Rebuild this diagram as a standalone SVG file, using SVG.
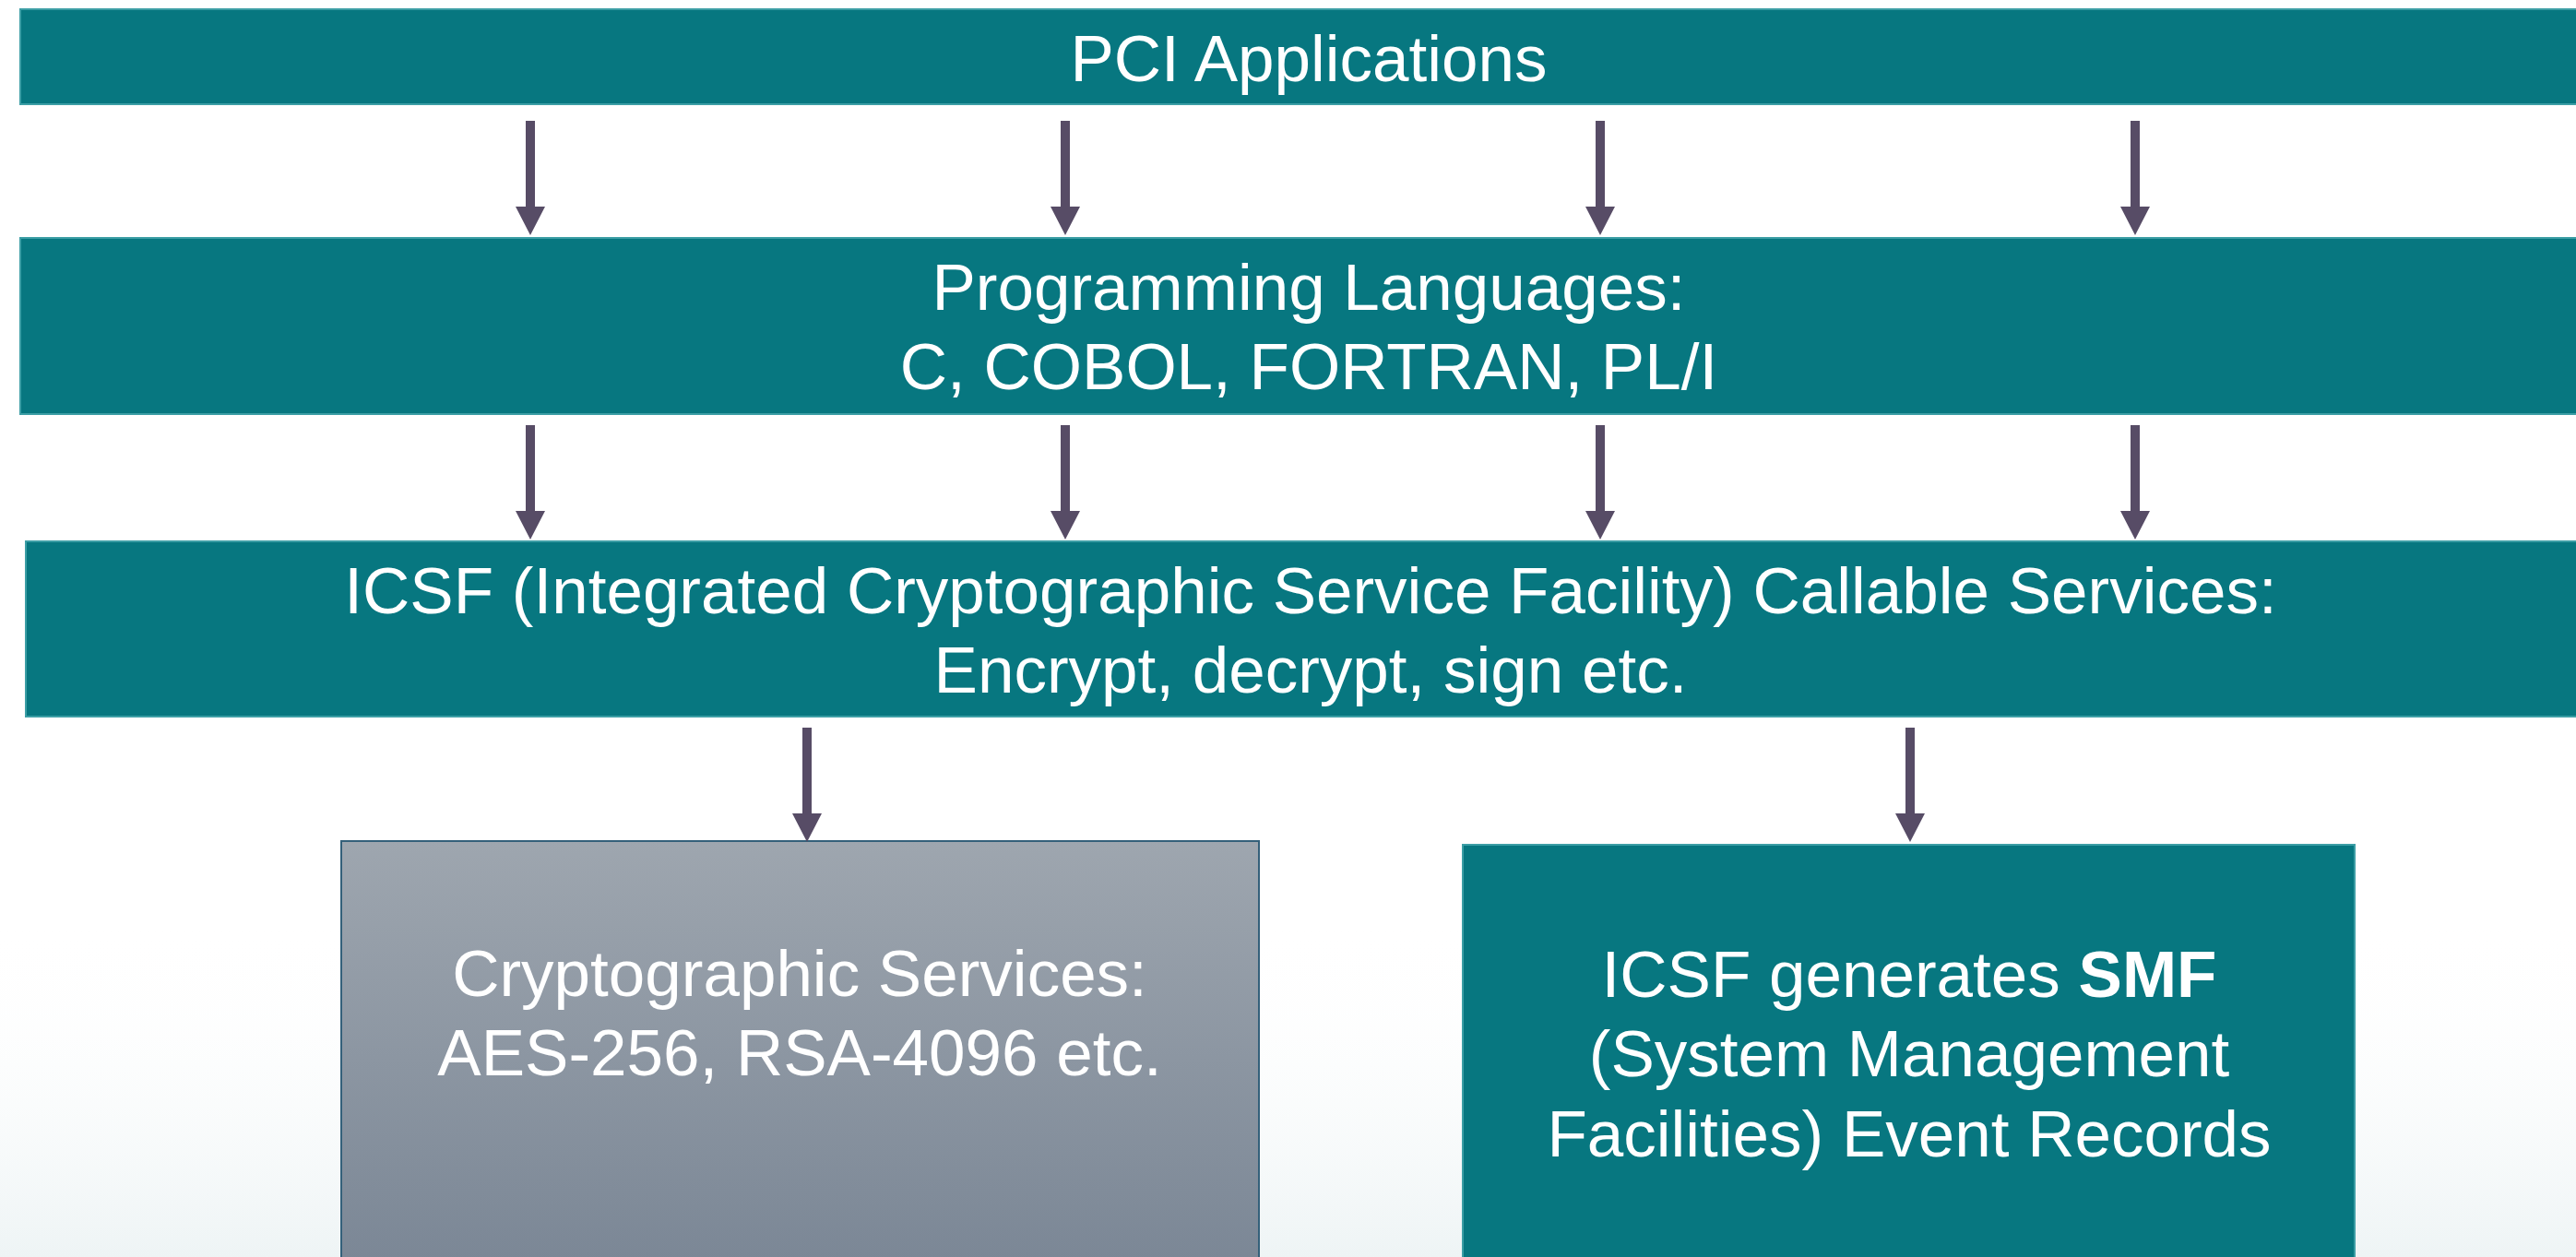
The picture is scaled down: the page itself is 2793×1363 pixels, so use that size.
<svg xmlns="http://www.w3.org/2000/svg" width="2793" height="1363" viewBox="0 0 2793 1363">
  <defs>
    <style>
      .bar { fill: #077780; stroke: #3c9ea5; stroke-width: 2; }
      .lbl { font-family: "Liberation Sans", Arial, sans-serif; font-size: 71px; fill: #ffffff; text-anchor: middle; }
      .arrow { fill: #574c66; }
    </style>
    <linearGradient id="grayGrad" x1="0" y1="0" x2="0" y2="1">
      <stop offset="0" stop-color="#9ea6af"/>
      <stop offset="1" stop-color="#7a8695"/>
    </linearGradient>
    <linearGradient id="bgGrad" x1="0" y1="0" x2="0" y2="1">
      <stop offset="0" stop-color="#ffffff" stop-opacity="0"/>
      <stop offset="1" stop-color="#eef4f5" stop-opacity="1"/>
    </linearGradient>
    <path id="arr" d="M -5 0 L 5 0 L 5 93 L 16 93 L 0 124 L -16 93 L -5 93 Z"/>
  </defs>

  <rect x="0" y="0" width="2793" height="1363" fill="#ffffff"/>
  <rect x="0" y="1000" width="2793" height="363" fill="url(#bgGrad)"/>

  <g id="node-pci">
    <rect class="bar" x="22" y="10" width="2800" height="103"/>
    <text class="lbl" x="1419" y="88">PCI Applications</text>
  </g>

  <g id="node-languages">
    <rect class="bar" x="22" y="258" width="2800" height="191"/>
    <text class="lbl" x="1419" y="336">Programming Languages:</text>
    <text class="lbl" x="1419" y="422">C, COBOL, FORTRAN, PL/I</text>
  </g>

  <g id="node-icsf">
    <rect class="bar" x="28" y="587" width="2800" height="190"/>
    <text class="lbl" x="1421" y="665">ICSF (Integrated Cryptographic Service Facility) Callable Services:</text>
    <text class="lbl" x="1421" y="751">Encrypt, decrypt, sign etc.</text>
  </g>

  <g id="node-crypto">
    <rect x="370" y="912" width="995" height="470" fill="url(#grayGrad)" stroke="#34607a" stroke-width="2"/>
    <text class="lbl" x="867" y="1080">Cryptographic Services:</text>
    <text class="lbl" x="867" y="1166">AES-256, RSA-4096 etc.</text>
  </g>

  <g id="node-smf">
    <rect class="bar" x="1586" y="916" width="967" height="470"/>
    <text class="lbl" x="2070" y="1081">ICSF generates <tspan font-weight="bold">SMF</tspan></text>
    <text class="lbl" x="2070" y="1167">(System Management</text>
    <text class="lbl" x="2070" y="1254">Facilities) Event Records</text>
  </g>

  <g id="connectors" class="arrow">
    <use href="#arr" x="575" y="131"/>
    <use href="#arr" x="1155" y="131"/>
    <use href="#arr" x="1735" y="131"/>
    <use href="#arr" x="2315" y="131"/>
    <use href="#arr" x="575" y="461"/>
    <use href="#arr" x="1155" y="461"/>
    <use href="#arr" x="1735" y="461"/>
    <use href="#arr" x="2315" y="461"/>
    <use href="#arr" x="875" y="789"/>
    <use href="#arr" x="2071" y="789"/>
  </g>
</svg>
